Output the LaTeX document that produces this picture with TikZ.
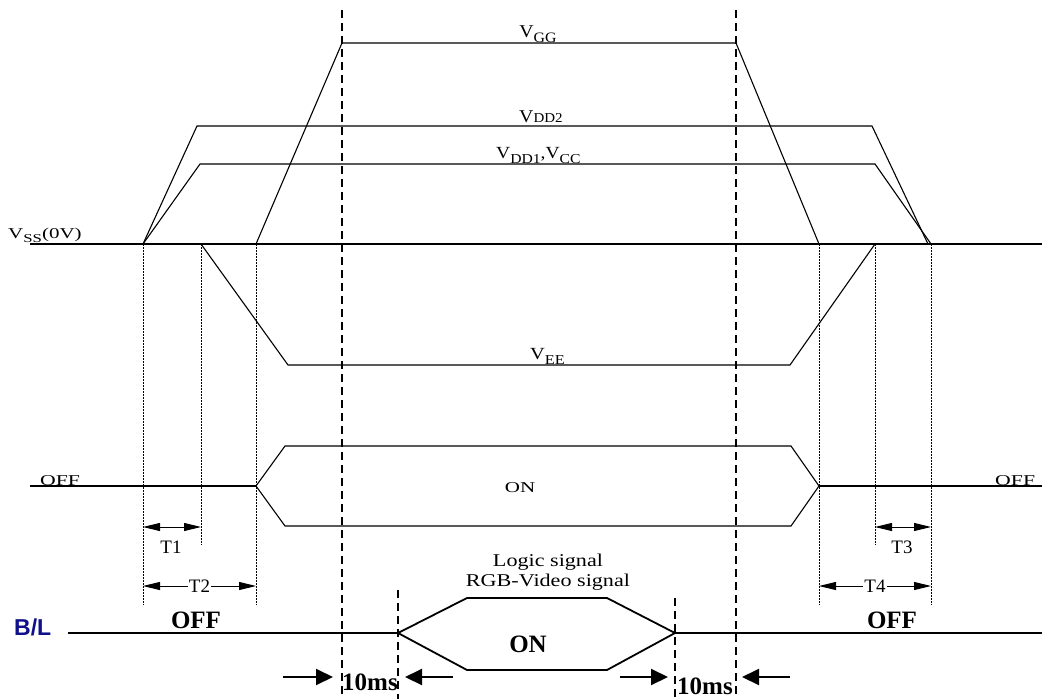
\documentclass[tikz,border=0pt]{standalone}
\usepackage{fontspec}
\setmainfont{Liberation Serif}
\newfontfamily\blfont{Liberation Sans}
\usetikzlibrary{arrows.meta}
\definecolor{blnavy}{RGB}{16,16,140}
\newcommand\lsub[1]{\raisebox{-0.3em}{\scalebox{0.8}{#1}}}
\newcommand\fs[1]{\fontsize{#1}{#1}\selectfont}
\newcommand\sx[2]{\scalebox{#1}[1]{#2}}
\begin{document}
\begin{tikzpicture}[x=1pt,y=-1pt,
  wave/.style={line width=1.1pt, line join=miter},
  blwave/.style={line width=1.8pt, line join=miter},
  guide/.style={line width=0.9pt, dash pattern=on 1.5pt off 1.5pt},
  marker/.style={line width=1.4pt, dash pattern=on 8pt off 5pt},
  dimarrow/.style={line width=0.9pt, {Triangle[length=17pt,width=8pt]}-{Triangle[length=17pt,width=8pt]}},
  push/.style={line width=2pt, -{Triangle[length=17pt,width=16pt]}},
  lab/.style={inner sep=0pt, anchor=base},
  boldlab/.style={inner sep=0pt, anchor=base, font=\fs{25}\bfseries},
]
\useasboundingbox (0,0) rectangle (1042,699);

% ---- coordinates
\coordinate (s0) at (30,244);   \coordinate (s1) at (1042,244);
\coordinate (d2a) at (143,244); \coordinate (d2b) at (197,126); \coordinate (d2c) at (872,126); \coordinate (d2d) at (928,244);
\coordinate (d1a) at (143,244); \coordinate (d1b) at (200,164); \coordinate (d1c) at (875,164); \coordinate (d1d) at (931,244);
\coordinate (ga) at (256,244);  \coordinate (gb) at (342,43);   \coordinate (gc) at (736,43);   \coordinate (gd) at (819,244);
\coordinate (ea) at (201,244);  \coordinate (eb) at (288,365);  \coordinate (ec) at (790,365);  \coordinate (ed) at (875,244);

\coordinate (o0) at (30,486);   \coordinate (oa) at (256,486); \coordinate (ob) at (285,446); \coordinate (oc) at (791,446);
\coordinate (od) at (819,486);  \coordinate (oe) at (791,526); \coordinate (of) at (285,526); \coordinate (o1) at (1042,486);

\coordinate (b0) at (68,633);   \coordinate (ba) at (398,633); \coordinate (bb) at (467,598); \coordinate (bc) at (607,598);
\coordinate (bd) at (675,633);  \coordinate (be) at (607,670); \coordinate (bf) at (467,670); \coordinate (b1) at (1042,633);

% ---- guides
\foreach \x/\y in {143/605, 201/545, 256/605, 819/605, 875/545, 931/605}{
  \coordinate (gt\x) at (\x,244); \coordinate (gu\x) at (\x,\y);
  \draw[guide] (gt\x) -- (gu\x);
}
\coordinate (m1t) at (342,10); \coordinate (m1b) at (342,699);
\coordinate (m2t) at (736,10); \coordinate (m2b) at (736,699);
\coordinate (m3t) at (398,590); \coordinate (m3b) at (398,699);
\coordinate (m4t) at (675,598); \coordinate (m4b) at (675,699);
\draw[marker] (m1t) -- (m1b);
\draw[marker] (m2t) -- (m2b);
\draw[marker] (m3t) -- (m3b);
\draw[marker] (m4t) -- (m4b);

% ---- waveforms
\draw[wave] (s0) -- (s1);
\draw[wave] (d2a) -- (d2b) -- (d2c) -- (d2d);
\draw[wave] (d1a) -- (d1b) -- (d1c) -- (d1d);
\draw[wave] (ga) -- (gb) -- (gc) -- (gd);
\draw[wave] (ea) -- (eb) -- (ec) -- (ed);
\draw[wave] (o0) -- (oa);
\draw[wave] (oa) -- (ob) -- (oc) -- (od) -- (oe) -- (of) -- cycle;
\draw[wave] (od) -- (o1);
\draw[blwave] (b0) -- (ba);
\draw[blwave] (ba) -- (bb) -- (bc) -- (bd) -- (be) -- (bf) -- cycle;
\draw[blwave] (bd) -- (b1);

% ---- dimension arrows
\coordinate (t1a) at (143,527); \coordinate (t1b) at (201,527);
\coordinate (t2a) at (143,586); \coordinate (t2b) at (256,586);
\coordinate (t3a) at (875,527); \coordinate (t3b) at (931,527);
\coordinate (t4a) at (819,586); \coordinate (t4b) at (931,586);
\draw[dimarrow] (t1a) -- (t1b);
\draw[dimarrow] (t3a) -- (t3b);
\draw[dimarrow] (t2a) -- node[fill=white, inner sep=1pt, font=\fs{19}] (t2l) {T2} (t2b);
\draw[dimarrow] (t4a) -- node[fill=white, inner sep=1pt, font=\fs{19}] (t4l) {T4} (t4b);
\node[lab, font=\fs{19}] (t1l) at (171,553) {T1};
\node[lab, font=\fs{19}] (t3l) at (902,553) {T3};

% ---- 10 ms arrows
\coordinate (p1a) at (283,677); \coordinate (p1b) at (333,677);
\coordinate (p2a) at (453,677); \coordinate (p2b) at (405,677);
\coordinate (p3a) at (620,677); \coordinate (p3b) at (668,677);
\coordinate (p4a) at (790,677); \coordinate (p4b) at (742,677);
\draw[push] (p1a) -- (p1b);
\draw[push] (p2a) -- (p2b);
\draw[push] (p3a) -- (p3b);
\draw[push] (p4a) -- (p4b);

% ---- labels
\node[lab, anchor=base west, font=\fs{15}] (vss) at (8,238) {\sx{1.4}{V\lsub{SS}(0V)}};
\node[lab, font=\fs{18}] (vgg) at (538,37) {\sx{1.1}{V\lsub{GG}}};
\node[lab, anchor=base west, font=\fs{18}] (vdd2) at (519,122) {\sx{1.1}{V{\fs{13.6}DD2}}};
\node[lab, anchor=base west, font=\fs{17}] (vdd1) at (496,158) {\sx{1.15}{V\lsub{DD1},V\lsub{CC}}};
\node[lab, anchor=base west, font=\fs{17}] (vee) at (530,359) {\sx{1.2}{V\lsub{EE}}};
\node[lab, anchor=base west, font=\fs{15}] (offl) at (40,485) {\sx{1.45}{OFF}};
\node[lab, anchor=base west, font=\fs{15}] (offr) at (995,485) {\sx{1.45}{OFF}};
\node[lab, font=\fs{15}] (onm) at (520,492) {\sx{1.4}{ON}};
\node[lab, font=\fs{18}] (logic) at (548,566) {\sx{1.23}{Logic signal}};
\node[lab, font=\fs{18}] (rgb) at (548,586) {\sx{1.23}{RGB-Video signal}};
\node[boldlab] (offb1) at (196,628) {OFF};
\node[boldlab] (offb2) at (892,628) {OFF};
\node[boldlab] (onb) at (528,652) {ON};
\node[boldlab] (ms1) at (370,690) {10ms};
\node[boldlab] (ms2) at (705,694) {10ms};
\node[inner sep=0pt, anchor=base west, font=\blfont\fs{23}\bfseries, text=blnavy] (bl) at (14,635) {B/L};
\end{tikzpicture}
\end{document}
